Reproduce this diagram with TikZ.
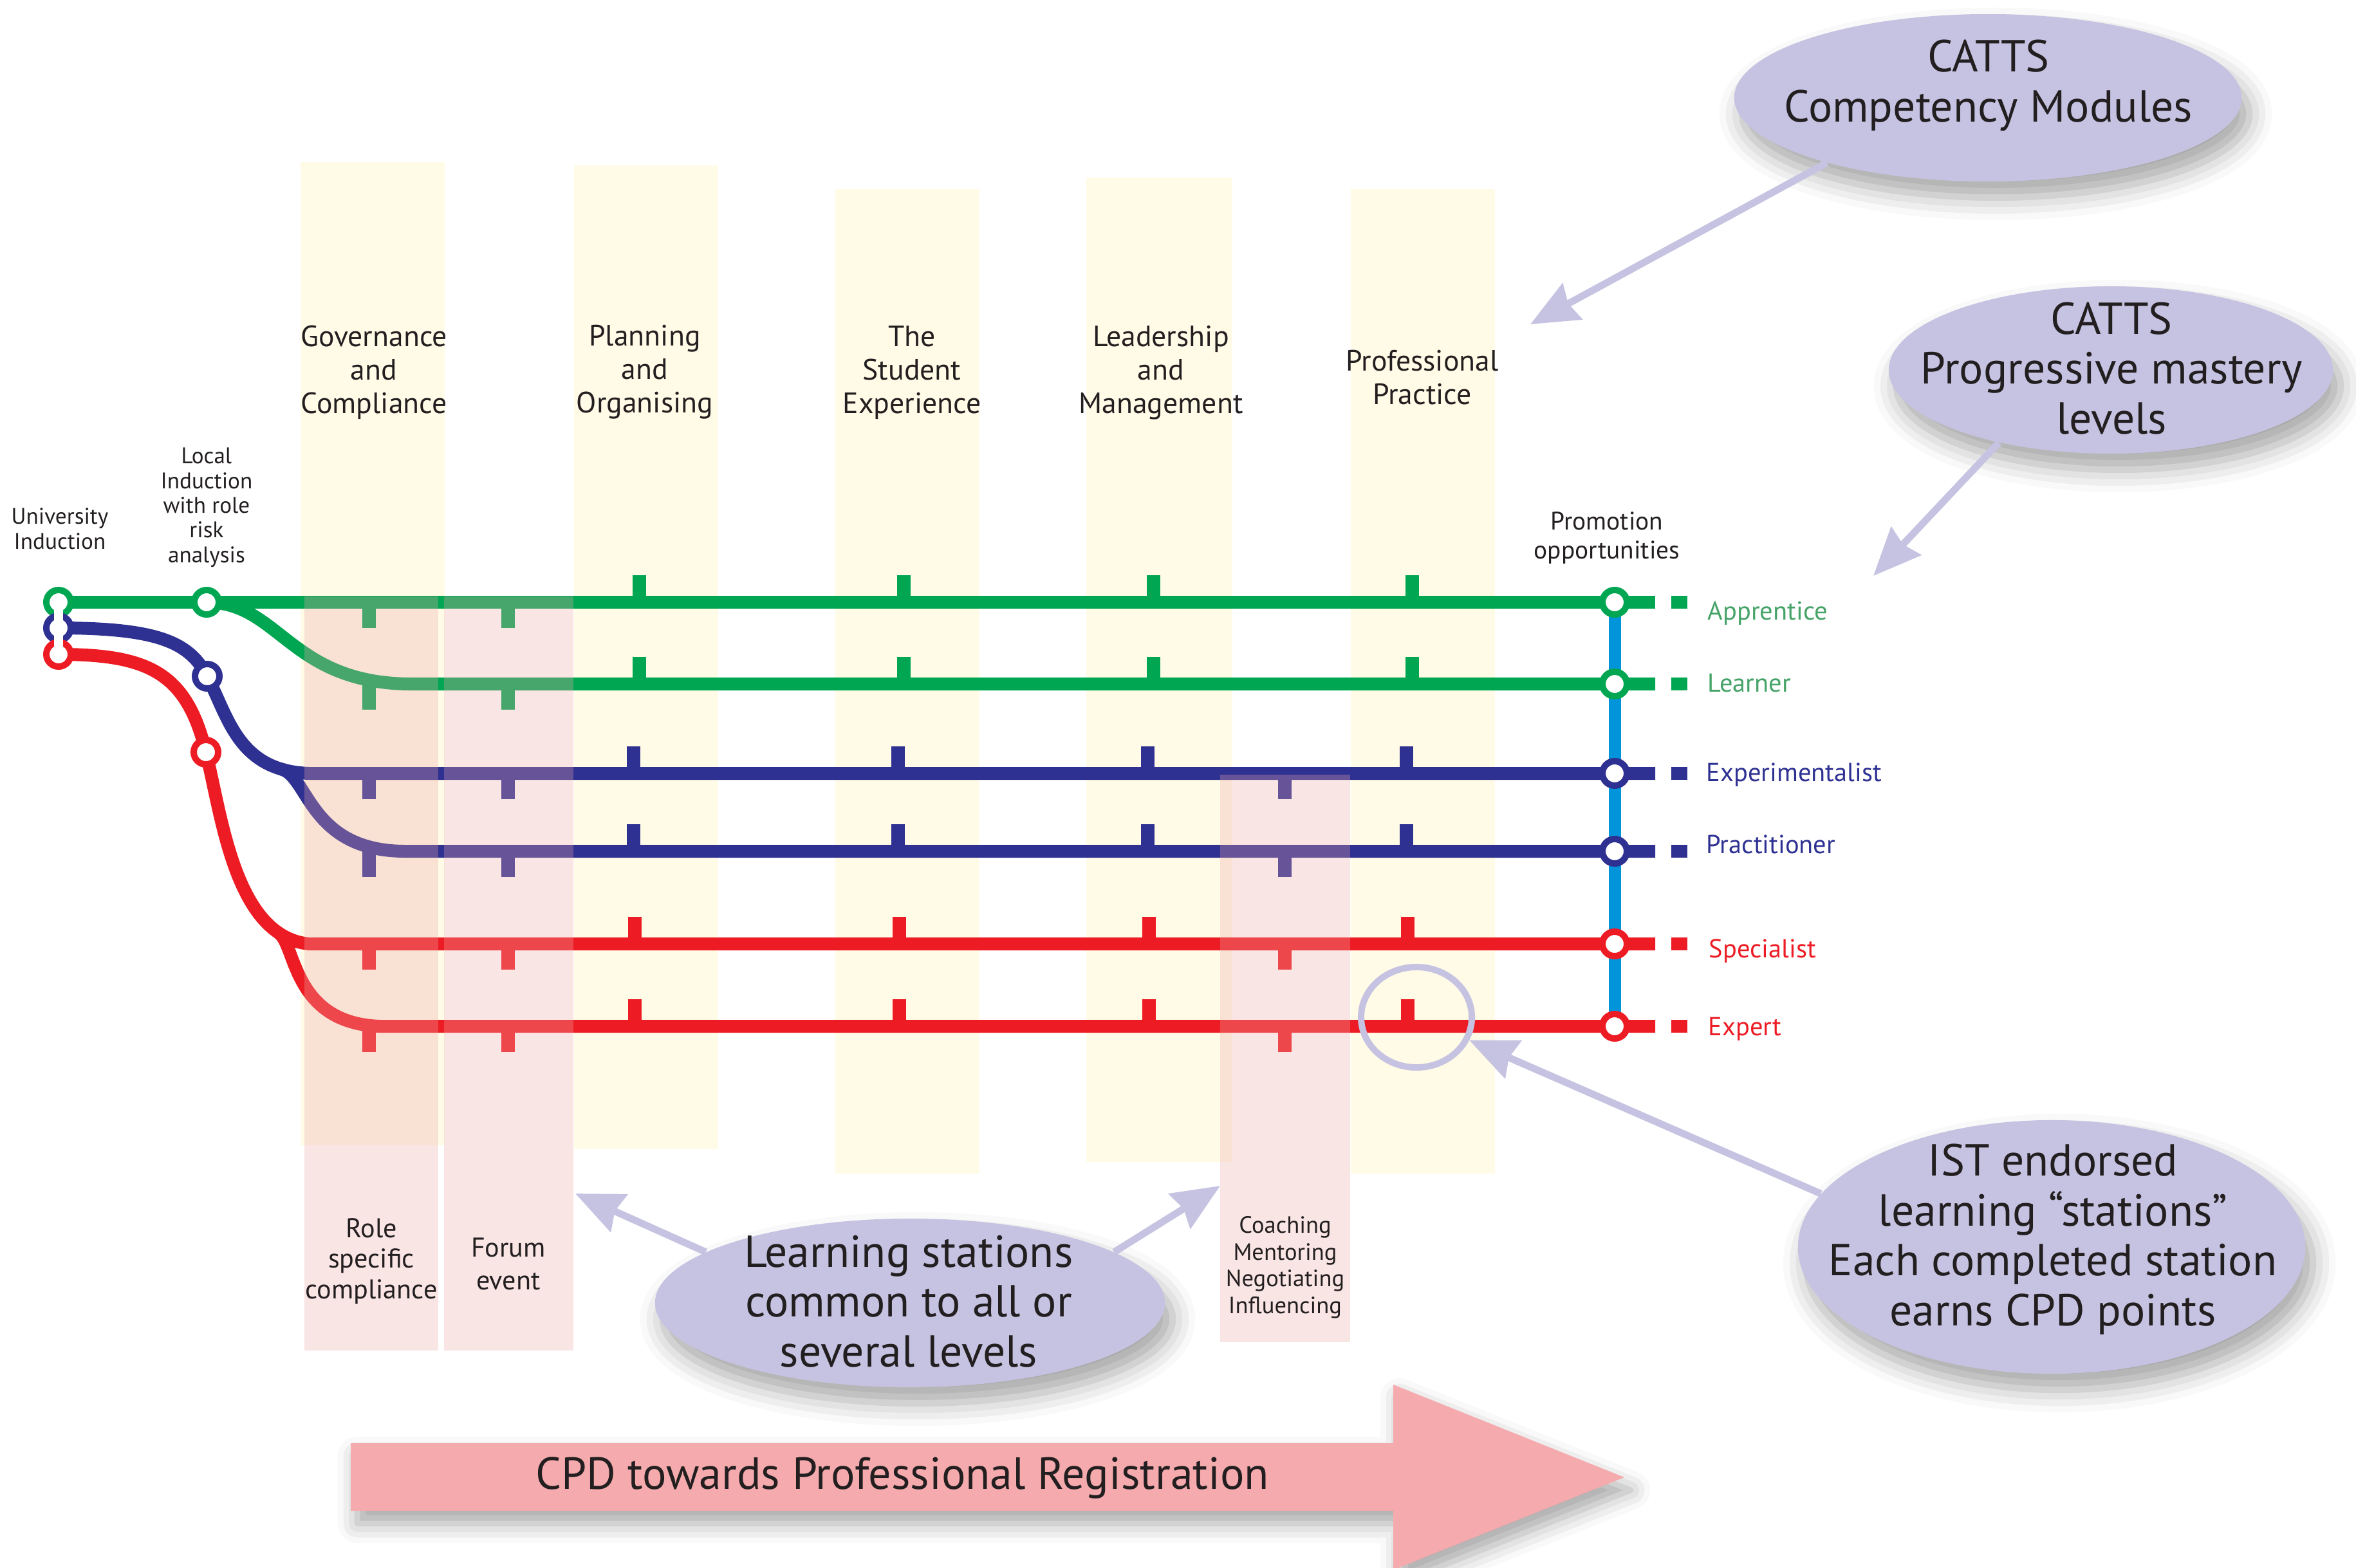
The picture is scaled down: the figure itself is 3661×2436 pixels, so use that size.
\documentclass[tikz,border=0pt]{standalone}
\usepackage{fontspec}
\setmainfont{PT Sans}
\usetikzlibrary{shapes.geometric,arrows.meta,shadows.blur}

\definecolor{metgreen}{HTML}{00A651}
\definecolor{metblue}{HTML}{2E3192}
\definecolor{metred}{HTML}{ED1C24}
\definecolor{promoblue}{HTML}{0095DA}
\definecolor{colyellow}{HTML}{FFFBE7}
\definecolor{tintpink}{rgb}{0.93,0.66,0.66}
\definecolor{lavender}{HTML}{C5C3E1}
\definecolor{cpdpink}{HTML}{F5AAAD}
\definecolor{lvlgreen}{HTML}{45A367}
\definecolor{inkgrey}{HTML}{231F20}

\tikzset{
  metro/.style={draw=#1, line width=0.2cm},
  station/.style={circle, draw=#1, fill=white, line width=0.1cm, minimum size=0.38cm, inner sep=0pt},
  lvl/.style={anchor=base west, inner sep=0pt, text=#1, font=\fontsize{11.5}{13}\selectfont},
  coltitle/.style={anchor=base, align=center, inner sep=0pt, text=inkgrey, font=\fontsize{13}{14.65}\selectfont},
  smalltxt/.style={anchor=base, align=center, inner sep=0pt, text=inkgrey, font=\fontsize{10}{10.9}\selectfont},
  bubble/.style={ellipse, fill=lavender, inner sep=0pt,
    blur shadow={shadow xshift=0.12cm, shadow yshift=-0.25cm, shadow blur radius=0.35cm, shadow opacity=35}},
  bubbletext/.style={anchor=base, align=center, inner sep=0pt, text=inkgrey, font=\fontsize{19.8}{22}\selectfont},
  callout/.style={draw=lavender, line width=0.11cm, -{Stealth[length=0.74cm, width=0.63cm, inset=0.07cm]}}
}

\begin{document}
\begin{tikzpicture}[x=0.01cm, y=-0.01cm]
\useasboundingbox (0,0) rectangle (3661,2436);

\coordinate (uA) at (91,936);
\coordinate (uB) at (91,976);
\coordinate (uC) at (91,1017);
\coordinate (lA) at (321,936);
\coordinate (lB) at (322,1051);
\coordinate (lC) at (320,1169);
\coordinate (pA) at (2509,936);
\coordinate (pB) at (2509,1063);
\coordinate (pC) at (2509,1202);
\coordinate (pD) at (2509,1323);
\coordinate (pE) at (2509,1467);
\coordinate (pF) at (2509,1595);

\coordinate (jB) at (640,1063);
\coordinate (jC) at (480,1202);
\coordinate (bD) at (436,1195);
\coordinate (jD) at (630,1323);
\coordinate (jE) at (480,1467);
\coordinate (bE) at (434,1451);
\coordinate (jF) at (590,1595);

% module columns
\foreach \xa/\xb/\yt/\yb in {467/691/252/1780, 892/1116/257/1786, 1298/1522/294/1824, 1688/1915/276/1806, 2099/2323/294/1824}
  \fill[colyellow] (\xa,\yt) rectangle (\xb,\yb);

% lines
\draw[metro=metgreen] (uA) -- (lA) -- (pA) -- ++(63,0);
\draw[metro=metgreen] (lA) .. controls (435,936) and (450,1063) .. (jB) -- (pB) -- ++(63,0);
\draw[metro=metblue] (uB) .. controls (250,976) and (295,1000) .. (lB)
  .. controls (355,1115) and (370,1198) .. (jC) -- (pC) -- ++(63,0);
\draw[metro=metblue] (bD) .. controls (480,1205) and (480,1323) .. (jD) -- (pD) -- ++(63,0);
\draw[metro=metred] (uC) .. controls (230,1017) and (290,1045) .. (lC)
  .. controls (345,1270) and (365,1455) .. (jE) -- (pE) -- ++(63,0);
\draw[metro=metred] (bE) .. controls (460,1470) and (455,1590) .. (jF) -- (pF) -- ++(63,0);
\draw[draw=promoblue, line width=0.19cm] (pA) -- (pF);
\foreach \yy/\cc/\dx in {936/metgreen/0, 1063/metgreen/0, 1202/metblue/-9, 1323/metblue/-9, 1467/metred/-7, 1595/metred/-7}{
  \foreach \xx in {993,1404,1792,2194}
    \fill[\cc] (\xx+\dx-10.5,\yy) rectangle (\xx+\dx+10.5,\yy-42);
  \foreach \xx in {573,789}
    \fill[\cc] (\xx-10.5,\yy) rectangle (\xx+10.5,\yy+40);
  \fill[\cc] (2597,\yy-10) rectangle (2622,\yy+10);
}
\foreach \yy/\cc in {1202/metblue, 1323/metblue, 1467/metred, 1595/metred}
  \fill[\cc] (1986,\yy) rectangle (2007,\yy+40);

% learning stations
\fill[tintpink, opacity=0.3] (473,927) rectangle (681,2099);
\fill[tintpink, opacity=0.3] (690,927) rectangle (891,2099);
\fill[tintpink, opacity=0.3] (1896,1204) rectangle (2098,2086);

% stations
\node[station=metgreen] (uA-st) at (uA) {};
\node[station=metblue] (uB-st) at (uB) {};
\node[station=metred] (uC-st) at (uC) {};
\node[station=metgreen] (lA-st) at (lA) {};
\node[station=metblue] (lB-st) at (lB) {};
\node[station=metred] (lC-st) at (lC) {};
\node[station=metgreen] (pA-st) at (pA) {};
\node[station=metgreen] (pB-st) at (pB) {};
\node[station=metblue] (pC-st) at (pC) {};
\node[station=metblue] (pD-st) at (pD) {};
\node[station=metred] (pE-st) at (pE) {};
\node[station=metred] (pF-st) at (pF) {};
\draw[white, line width=0.13cm] (uA) -- (uC);

% labels
\node[smalltxt] (uniT) at (93,853) {University\\Induction};
\node[smalltxt] (locT) at (321,874) {Local\\Induction\\with role\\risk\\analysis};
\node[coltitle] (govT) at (581,642) {Governance\\and\\Compliance};
\node[coltitle] (planT) at (1002,641) {Planning\\and\\Organising};
\node[coltitle] (studT) at (1417,642) {The\\Student\\Experience};
\node[coltitle] (leadT) at (1804,642) {Leadership\\and\\Management};
\node[coltitle] (profT) at (2210,628) {Professional\\Practice};
\node[smalltxt, font=\fontsize{11.2}{12.8}\selectfont] (promT) at (2497,868) {Promotion\\opportunities};

\node[lvl=lvlgreen] (apprT) at (2653,963) {Apprentice};
\node[lvl=lvlgreen] (learT) at (2653,1075) {Learner};
\node[lvl=metblue] (expmT) at (2651,1214) {Experimentalist};
\node[lvl=metblue] (pracT) at (2651,1326) {Practitioner};
\node[lvl=metred] (specT) at (2655,1488) {Specialist};
\node[lvl=metred] (expT) at (2654,1609) {Expert};

\node[smalltxt, font=\fontsize{12}{13.5}\selectfont] (roleT) at (577,2018) {Role\\specific\\compliance};
\node[smalltxt, font=\fontsize{12}{14.5}\selectfont] (forumT) at (790,2004) {Forum\\event};
\node[smalltxt, font=\fontsize{10.4}{11.8}\selectfont] (coachT) at (1997,2041) {Coaching\\Mentoring\\Negotiating\\Influencing};

% callouts
\node[bubble, minimum width=7.88cm, minimum height=2.6cm] (compE) at (3089,152) {};
\node[bubble, minimum width=6.9cm, minimum height=2.6cm] (mastE) at (3280,575) {};
\node[bubble, minimum width=7.92cm, minimum height=2.62cm] (learnE) at (1414,2025) {};
\node[bubble, minimum width=7.88cm, minimum height=3.94cm] (istE) at (3188,1938) {};
\node[bubbletext] (compT) at (3090,189) {CATTS\\Competency Modules};
\node[bubbletext] (mastT) at (3281,674) {CATTS\\Progressive mastery\\levels};
\node[bubbletext] (learnT) at (1412,2124) {Learning stations\\common to all or\\several levels};
\node[bubbletext] (istT) at (3190,2060) {IST endorsed\\learning “stations”\\Each completed station\\earns CPD points};

\coordinate (compTip) at (2378,504);
\coordinate (mastTip) at (2911,895);
\coordinate (forumTip) at (894,1855);
\coordinate (coachTip) at (1896,1843);
\node[draw=lavender, line width=0.1cm, ellipse, minimum width=1.72cm, minimum height=1.56cm, inner sep=0pt] (ring) at (2201,1581) {};

\draw[callout] (compE.202.5) -- (compTip);
\draw[callout] (mastE.213) -- (mastTip);
\draw[callout] (learnE.166) -- (forumTip);
\draw[callout] (learnE.14) -- (coachTip);
\draw[callout] (istE.167) -- (ring);

% CPD arrow
\path[fill=cpdpink, blur shadow={shadow xshift=0.1cm, shadow yshift=-0.2cm, shadow blur radius=0.3cm, shadow opacity=35}]
  (545,2243) -- (2165,2243) -- (2165,2152) -- (2524,2296) -- (2165,2440) -- (2165,2348) -- (545,2348) -- cycle;
\node[anchor=base, inner sep=0pt, text=inkgrey, font=\fontsize{19.9}{22}\selectfont] (cpdT) at (1402,2314) {CPD towards Professional Registration};
\end{tikzpicture}
\end{document}
